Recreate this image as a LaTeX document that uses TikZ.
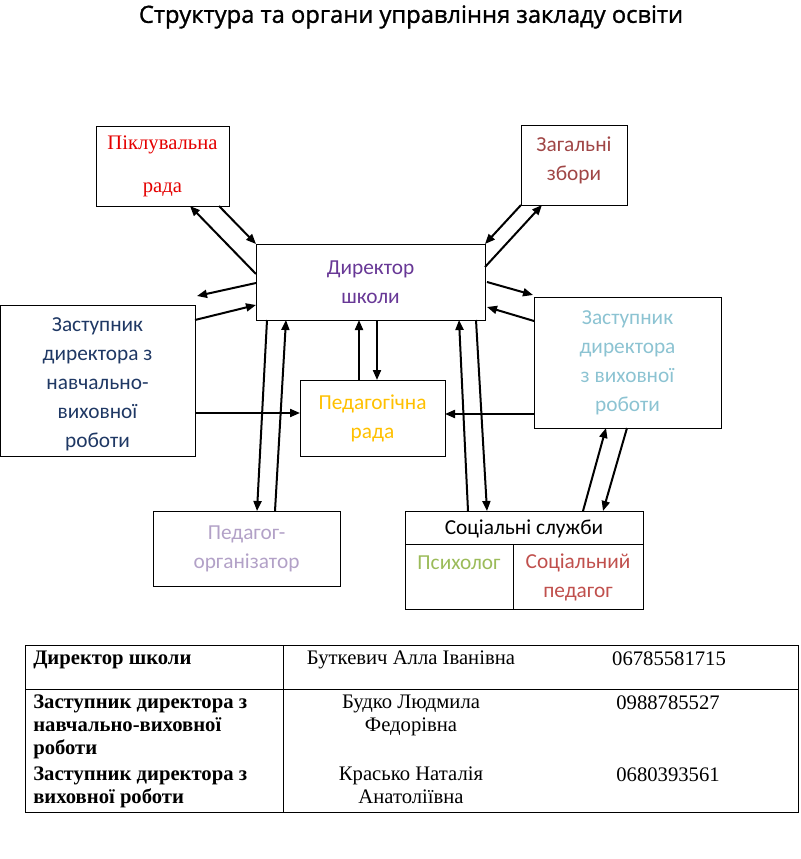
\documentclass[tikz,border=0pt]{standalone}
\usepackage{fontspec}
\setmainfont{Liberation Serif}
\newfontfamily\calibfont{Carlito}
\newfontfamily\headfont[FakeBold=1.2]{Open Sans}
\usetikzlibrary{arrows.meta,calc}

\definecolor{pikred}{RGB}{228,0,0}
\definecolor{zagred}{RGB}{160,70,70}
\definecolor{dirpurple}{RGB}{104,56,150}
\definecolor{zvrblue}{RGB}{31,56,100}
\definecolor{zvhrblue}{RGB}{140,195,210}
\definecolor{radayellow}{RGB}{255,192,0}
\definecolor{orggray}{RGB}{178,161,199}
\definecolor{psygreen}{RGB}{155,187,89}
\definecolor{pedred}{RGB}{192,80,77}

\tikzset{
    box/.style={draw, line width=0.6pt, inner sep=0pt, outer sep=0pt, align=center,
        font=\calibfont\fontsize{16}{21.75}\selectfont},
    link/.style={line width=1.5pt, -{Triangle[length=7.5pt,width=6pt]}},
    cell/.style={inner sep=0pt, anchor=north, align=center, font=\fontsize{15.5}{17.25}\selectfont},
    headcell/.style={cell, anchor=north west, align=left, font=\bfseries\fontsize{15.5}{17.25}\selectfont},
}

\begin{document}
\begin{tikzpicture}[x=0.75pt, y=-0.75pt]
    \useasboundingbox (0,0) rectangle (800,859);
    \node[font=\headfont\fontsize{17.8}{20}\selectfont] (title) at (411,17) {Структура та органи управління закладу освіти};

    \node[box, minimum width=99.75pt, minimum height=60pt, text=pikred,
        font=\fontsize{15.5}{32.25}\selectfont] (pik) at (162.5,166) {Піклувальна\\рада};
    \node[box, minimum width=79.5pt, minimum height=60pt, text=zagred, text depth=9pt] (zag) at (574,165) {Загальні\\збори};
    \node[box, minimum width=171.75pt, minimum height=57pt, text=dirpurple] (dir) at (370.5,282) {Директор\\школи};
    \node[box, minimum width=146.25pt, minimum height=113.25pt, text=zvrblue, text height=103pt] (zvr) at (97.5,380.5)
        {Заступник\\директора з\\навчально-\\виховної\\роботи};
    \node[box, minimum width=140.25pt, minimum height=98.25pt, text=zvhrblue] (zvhr) at (627.5,362.5)
        {Заступник\\директора\\з виховної\\роботи};
    \node[box, minimum width=108.75pt, minimum height=57pt, text=radayellow] (rada) at (372.5,418) {Педагогічна\\рада};
    \node[box, minimum width=140.25pt, minimum height=56.25pt, text=orggray] (org) at (246.5,548.5) {Педагог-\\організатор};

    \node[box, minimum width=178.5pt, minimum height=73.5pt] (soc) at (524,560) {};
    \draw[line width=0.6pt] ($(soc.north west)+(0,33)$) -- ($(soc.north east)+(0,33)$);
    \draw[line width=0.6pt] ($(soc.south west)+(108,0)$) -- ($(soc.north west)+(108,33)$);
    \node[box, draw=none] (socname) at (524,529) {Соціальні служби};
    \node[box, draw=none, text=psygreen] (psy) at (459,563) {Психолог};
    \node[box, draw=none, text=pedred] (socped) at (578,577.5) {Соціальний\\педагог};

    \draw[link] ($(pik.south west)+(123,0)$) -- (dir.north west);
    \draw[link] ($(dir.north west)+(0,30)$) -- ($(pik.south west)+(94,0)$);
    \draw[link] (zag.south west) -- (dir.north east);
    \draw[link] ($(dir.north east)+(0,23)$) -- ($(zag.south west)+(21,0)$);
    \draw[link] ($(dir.north west)+(0,39)$) -- ($(zvr.north east)+(2,-9)$);
    \draw[link] ($(zvr.north east)+(0,15)$) -- ($(dir.north west)+(0,61)$);
    \draw[link] ($(dir.north east)+(2,38)$) -- ($(zvhr.north west)+(-1,-2)$);
    \draw[link] ($(zvhr.north west)+(0,24)$) -- ($(dir.north east)+(2,63)$);
    \draw[link] ($(rada.north west)+(59,0)$) -- ($(dir.south west)+(103,0)$);
    \draw[link] ($(dir.south west)+(121,0)$) -- ($(rada.north west)+(77,0)$);
    \draw[link] ($(zvr.north east)+(0,108)$) -- ($(rada.north west)+(0,33)$);
    \draw[link] ($(zvhr.north west)+(0,117)$) -- ($(rada.north east)+(0,34)$);
    \draw[link] ($(dir.south west)+(11,0)$) -- ($(org.north west)+(104,0)$);
    \draw[link] ($(org.north west)+(122,0)$) -- ($(dir.south west)+(30,0)$);
    \draw[link] ($(soc.north west)+(63,0)$) -- ($(dir.south west)+(203,0)$);
    \draw[link] ($(dir.south west)+(220,0)$) -- ($(soc.north west)+(82,0)$);
    \draw[link] ($(soc.north west)+(178,0)$) -- ($(zvhr.south west)+(72,0)$);
    \draw[link] ($(zvhr.south west)+(93,0)$) -- ($(soc.north west)+(198,0)$);

    \draw[line width=0.6pt] (25,645) rectangle (798,812);
    \draw[line width=0.6pt] (25,689) -- (798,689);
    \draw[line width=0.6pt] (283,645) -- (283,812);
    \node[headcell] (dirrow) at (33,651) {Директор школи};
    \node[headcell] (zvrrow) at (33,695) {Заступник директора з\\навчально-виховної\\роботи};
    \node[headcell] (zvhrrow) at (33,767) {Заступник директора з\\виховної роботи};
    \node[cell] (dirname) at (411,651) {Буткевич Алла Іванівна};
    \node[cell] (zvrname) at (411,695) {Будко Людмила\\Федорівна};
    \node[cell] (zvhrname) at (411,767) {Красько Наталія\\Анатоліївна};
    \node[cell] (dirtel) at (669,651) {06785581715};
    \node[cell] (zvrtel) at (668,695) {0988785527};
    \node[cell] (zvhrtel) at (668,767) {0680393561};
\end{tikzpicture}
\end{document}
